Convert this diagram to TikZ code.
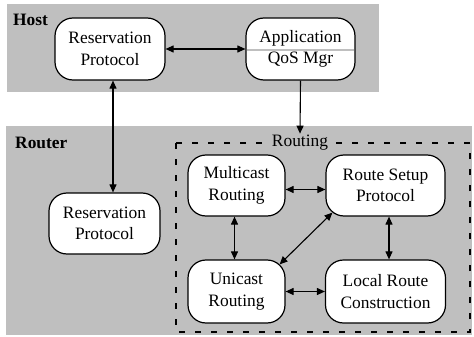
\documentclass[tikz,border=0pt]{standalone}
\usepackage{fontspec}
\setmainfont{Liberation Serif}
\usetikzlibrary{arrows.meta,calc}
\definecolor{panel}{RGB}{191,191,191}
\begin{document}
\begin{tikzpicture}[x=1pt,y=-1pt,
  txt/.style={font=\fontsize{17.4}{21.5}\selectfont},
  module/.style={txt,draw=black,line width=1.2pt,fill=white,rounded corners=18pt,
    align=center,inner sep=0pt},
  arr/.style={line width=1.1pt,{Triangle[length=8pt,width=7pt]}-{Triangle[length=8pt,width=7pt]}},
  uarr/.style={line width=1.1pt,-{Triangle[length=8pt,width=7pt]}}]
\useasboundingbox (0,0) rectangle (474,337);

% host and router panels
\fill[panel] (7,4) rectangle (379,92);
\fill[panel] (6,126) rectangle (472,335);
\node[txt,font=\fontsize{17.4}{21.5}\selectfont\bfseries,anchor=west,inner sep=0pt] (hostlbl) at (13,20) {Host};
\node[txt,font=\fontsize{17.4}{21.5}\selectfont\bfseries,anchor=west,inner sep=0pt] (routerlbl) at (15,143) {Router};

% routing group
\draw[line width=1.1pt,dash pattern=on 6pt off 10pt] (176,143) rectangle (470,332);
\node[txt,fill=panel,inner sep=1.5pt] (rt) at (300,143) {Routing};

% host modules
\node[module,minimum width=110pt,minimum height=62pt] (hrp) at (110,49) {Reservation\\Protocol};
\node[module,minimum width=109pt,minimum height=62pt] (app) at (300.5,49) {Application\\QoS Mgr};
\draw[panel,line width=2.5pt] ($(app.west)+(1.5,1)$) -- ($(app.east)+(-1.5,1)$);

% router modules
\node[module,minimum width=111pt,minimum height=61pt] (rrp) at (104.5,223.5) {Reservation\\Protocol};
\node[module,minimum width=97pt,minimum height=61pt] (mc) at (236.5,185.5) {Multicast\\Routing};
\node[module,minimum width=119pt,minimum height=61pt] (rs) at (385.5,185.5) {Route Setup\\Protocol};
\node[module,minimum width=97pt,minimum height=63pt] (uc) at (236.5,291.5) {Unicast\\Routing};
\node[module,minimum width=120pt,minimum height=63pt] (lc) at (385.5,291.5) {Local Route\\Construction};

% connectors
\coordinate (hx) at (113,0);
\draw[arr] (hrp.east) -- (app.west);
\draw[arr] (hrp.south -| hx) -- (rrp.north -| hx);
\draw[uarr] (app.south) -- (rt.north);
\draw[arr] ($(mc.east)+(0,4)$) -- ($(rs.west)+(0,4)$);
\draw[arr] (uc.east) -- (lc.west);
\draw[arr] ($(mc.south)+(-2,0)$) -- ($(uc.north)+(-2,0)$);
\draw[arr] ($(rs.south)+(3.5,0)$) -- ($(lc.north)+(3.5,0)$);
\draw[arr] ($(rs.south west)+(7,-4)$) -- ($(uc.north east)+(-6,5)$);
\end{tikzpicture}
\end{document}
